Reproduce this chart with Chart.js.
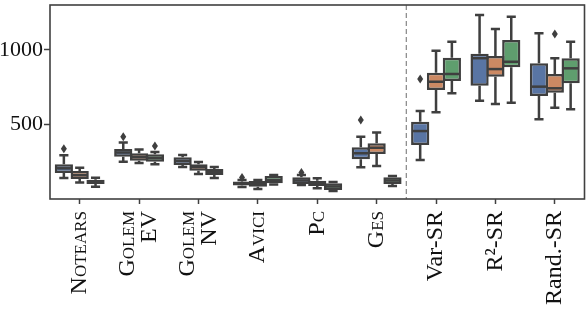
<!DOCTYPE html>
<html>
<head>
<meta charset="utf-8">
<script src="https://cdn.jsdelivr.net/npm/chart.js@4.4.1/dist/chart.umd.min.js"></script>
<style>
  html, body { margin: 0; padding: 0; background: #ffffff; }
  #wrap { width: 586px; height: 328px; }
</style>
</head>
<body>
<div id="wrap"><canvas id="c" width="586" height="328"></canvas></div>
<script>
// ---- data ----
const categories = [
  'Notears', ['Golem', 'EV'], ['Golem', 'NV'], 'Avici', 'Pc', 'Ges',
  'Var-SR', 'R\u00B2-SR', 'Rand.-SR'
];
const smallCapsLabels = [true, true, true, true, true, true, false, false, false];
const yTickValues = [500, 1000];

// series 1 (blue)
const blueLow  = [141, 250, 215,  80,  94, 213, 262,  660,  535];
const blueQ1   = [174, 283, 228,  90, 101, 266, 362,  760,  691];
const blueMed  = [206, 312, 255, 104, 124, 307, 456,  945,  754];
const blueQ3   = [233, 335, 280, 118, 146, 347, 519,  975,  911];
const blueHigh = [294, 380, 295, 128, 161, 418, 590, 1235, 1112];
const blueOut  = [[338], [418], [], [145], [178], [530], [805], [], []];

// series 2 (orange)
const orangeLow  = [110, 241, 168,  67,  72, 221, 582,  637,  613];
const orangeQ1   = [135, 257, 190,  83,  87, 302, 731,  821,  713];
const orangeMed  = [160, 282, 215, 100, 107, 344, 787,  872,  743];
const orangeQ3   = [188, 307, 233, 121, 123, 374, 847,  960,  839];
const orangeHigh = [210, 333, 248, 127, 139, 447, 995, 1141,  944];
const orangeOut  = [[], [], [], [], [], [], [], [], [1107]];

// series 3 (green)
const greenLow  = [ 83, 233, 141,  97,  54,  87,  709,  646,  602];
const greenQ1   = [100, 250, 161, 105,  60, 101,  792,  884,  776];
const greenMed  = [115, 275, 181, 127,  84, 124,  839,  921,  877];
const greenQ3   = [130, 300, 201, 154, 105, 146,  948, 1067,  944];
const greenHigh = [143, 315, 215, 161, 114, 154, 1056, 1223, 1056];
const greenOut  = [[], [356], [], [], [], [], [], [], []];

// ---- styling ----
const EDGE = '#3f3f3f';
const FRAME = '#404040';
const SERIF = "'Liberation Serif', 'DejaVu Serif', serif";

const stats = [
  { low: blueLow,   med: blueMed,   high: blueHigh,   q1: blueQ1,   q3: blueQ3,   out: blueOut,   color: '#5975a4' },
  { low: orangeLow, med: orangeMed, high: orangeHigh, q1: orangeQ1, q3: orangeQ3, out: orangeOut, color: '#cc8963' },
  { low: greenLow,  med: greenMed,  high: greenHigh,  q1: greenQ1,  q3: greenQ3,  out: greenOut,  color: '#5f9e6e' }
];

const datasets = stats.map(s => ({
  data: s.q1.map((v, i) => [v, s.q3[i]]),
  backgroundColor: s.color,
  borderColor: EDGE,
  borderWidth: 2.5,
  borderSkipped: false,
  categoryPercentage: 0.8,
  barPercentage: 1.15
}));

const boxPlugin = {
  id: 'boxExtras',
  beforeDraw(chart) {
    // centre multi-line rotated tick labels on their tick
    const xs = chart.scales.x;
    const items = xs.getLabelItems(chart.chartArea);
    items.forEach(it => {
      if (Array.isArray(it.label) && !it._centered) {
        it.textOffset -= it.font.lineHeight * (it.label.length - 1) / 2;
        it._centered = true;
      }
    });
  },
  beforeDatasetsDraw(chart) {
    const ctx = chart.ctx;
    const y = chart.scales.y;
    ctx.save();
    ctx.strokeStyle = EDGE;
    ctx.lineWidth = 2.5;
    ctx.lineCap = 'butt';
    stats.forEach((s, d) => {
      const meta = chart.getDatasetMeta(d);
      meta.data.forEach((bar, i) => {
        const x = bar.x;
        const half = bar.width * 0.25;
        const yl = y.getPixelForValue(s.low[i]);
        const yh = y.getPixelForValue(s.high[i]);
        const y1 = y.getPixelForValue(s.q1[i]);
        const y3 = y.getPixelForValue(s.q3[i]);
        ctx.beginPath();
        ctx.moveTo(x, y3); ctx.lineTo(x, yh);
        ctx.moveTo(x, y1); ctx.lineTo(x, yl);
        ctx.moveTo(x - half, yh); ctx.lineTo(x + half, yh);
        ctx.moveTo(x - half, yl); ctx.lineTo(x + half, yl);
        ctx.stroke();
      });
    });
    ctx.restore();
  },
  afterDatasetsDraw(chart) {
    const ctx = chart.ctx;
    const y = chart.scales.y;
    const xs = chart.scales.x;
    const area = chart.chartArea;
    ctx.save();
    stats.forEach((s, d) => {
      const meta = chart.getDatasetMeta(d);
      meta.data.forEach((bar, i) => {
        const x = bar.x;
        const w = bar.width;
        const ym = y.getPixelForValue(s.med[i]);
        ctx.strokeStyle = EDGE;
        ctx.lineWidth = 2.5;
        ctx.beginPath();
        ctx.moveTo(x - w / 2 + 1, ym); ctx.lineTo(x + w / 2 - 1, ym);
        ctx.stroke();
        ctx.fillStyle = EDGE;
        s.out[i].forEach(v => {
          const yo = y.getPixelForValue(v);
          ctx.beginPath();
          ctx.moveTo(x, yo - 4.5);
          ctx.lineTo(x + 3, yo);
          ctx.lineTo(x, yo + 4.5);
          ctx.lineTo(x - 3, yo);
          ctx.closePath();
          ctx.fill();
        });
      });
    });
    // dashed separator between the baselines and the SR variants
    const xd = (xs.getPixelForValue(5) + xs.getPixelForValue(6)) / 2;
    ctx.strokeStyle = '#8f8f8f';
    ctx.lineWidth = 1.3;
    ctx.setLineDash([5, 3]);
    ctx.beginPath();
    ctx.moveTo(xd, area.top); ctx.lineTo(xd, area.bottom);
    ctx.stroke();
    ctx.setLineDash([]);
    // frame
    ctx.strokeStyle = FRAME;
    ctx.lineWidth = 1.6;
    ctx.strokeRect(area.left, area.top, area.right - area.left, area.bottom - area.top);
    ctx.restore();
  }
};

new Chart(document.getElementById('c'), {
  type: 'bar',
  data: { labels: categories, datasets },
  plugins: [boxPlugin],
  options: {
    responsive: false,
    animation: false,
    layout: { padding: { top: 5, right: 1.5, left: 0, bottom: 0 } },
    plugins: { legend: { display: false }, tooltip: { enabled: false } },
    scales: {
      x: {
        grid: { drawOnChartArea: false, drawTicks: true, tickLength: 5, tickColor: FRAME, tickWidth: 1.5, offset: false },
        border: { display: false },
        ticks: {
          autoSkip: false,
          minRotation: 90,
          maxRotation: 90,
          padding: 7,
          color: '#111',
          font: (c) => ({
            family: SERIF,
            size: 24,
            weight: smallCapsLabels[c.index] ? 'small-caps' : 'normal',
            lineHeight: 0.92
          })
        },
        afterFit(scale) {
          scale.height = 129;
          scale.paddingLeft = 0;
          scale.paddingRight = 0;
        }
      },
      y: {
        min: 0,
        max: 1302,
        grid: { drawOnChartArea: false, drawTicks: true, tickLength: 6, tickColor: FRAME, tickWidth: 1.5 },
        border: { display: false },
        ticks: {
          color: '#111',
          padding: 1,
          font: { family: SERIF, size: 22 },
          callback: (v) => String(v)
        },
        afterBuildTicks(scale) { scale.ticks = yTickValues.map(v => ({ value: v })); },
        afterFit(scale) {
          scale.width = 50;
          scale.paddingTop = 0;
          scale.paddingBottom = 0;
        }
      }
    }
  }
});
</script>
</body>
</html>
